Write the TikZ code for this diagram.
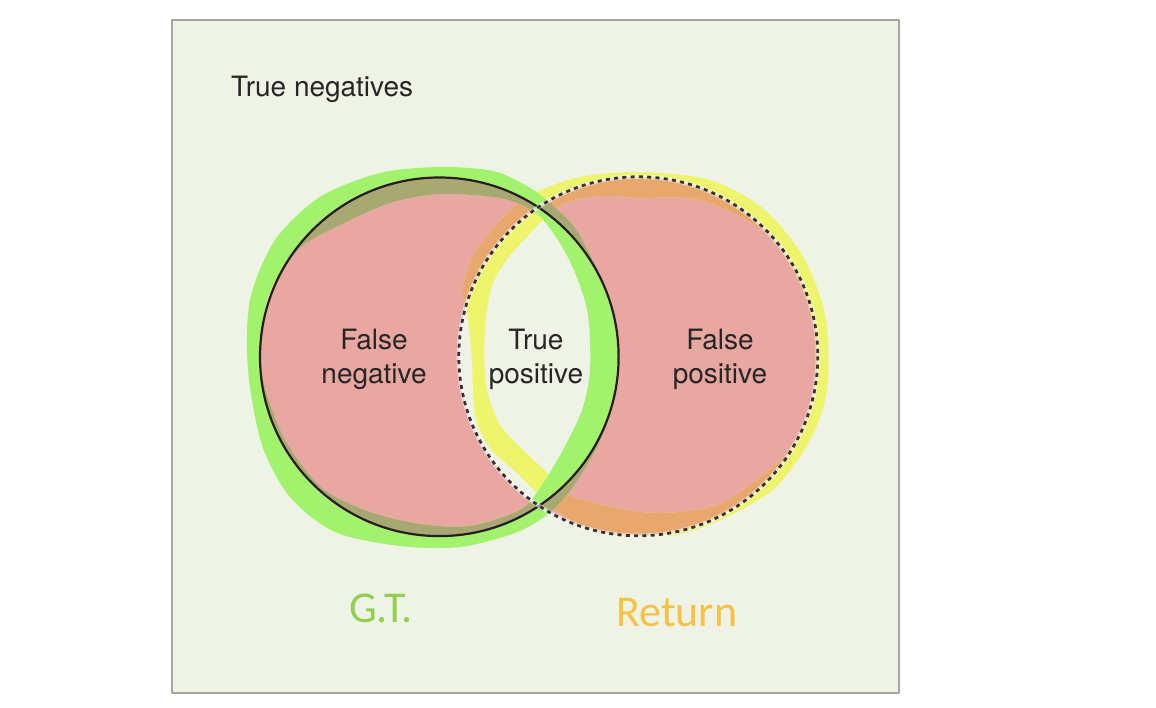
\documentclass[tikz,border=0pt]{standalone}
\usepackage{fontspec}
\setmainfont{TeX Gyre Heros}
\newfontfamily\calfont{Carlito}
\begin{document}
\begin{tikzpicture}[x=1pt,y=-1pt,line join=round]
\definecolor{bgc}{HTML}{EEF3E5}
\definecolor{boxc}{HTML}{A4A4A4}
\definecolor{pinkc}{HTML}{E8A7A0}
\definecolor{greenc}{HTML}{A3F26D}
\definecolor{olivec}{HTML}{A8A873}
\definecolor{yellowc}{HTML}{EFF46D}
\definecolor{orangec}{HTML}{E8A76C}
\definecolor{txtc}{HTML}{262626}
\definecolor{gtc}{HTML}{92D050}
\definecolor{retc}{HTML}{F7C244}
\definecolor{circc}{HTML}{2A1C24}
\definecolor{dotc}{HTML}{333338}
\tikzset{
  boxline/.style={draw=boxc,line width=2,fill=bgc},
  lbl/.style={text=txtc,inner sep=0,font=\fontsize{28}{34}\selectfont},
  tag/.style={inner sep=0,font=\calfont\fontsize{44}{50}\selectfont},
  gtcircle/.style={draw=circc,line width=2.2},
  retcircle/.style={draw=dotc,line width=2.8,dash pattern=on 4 off 4.3},
}
\useasboundingbox (0,0) rectangle (1156,708);
\fill[white] (0,0) rectangle (1156,708);
\path[boxline] (172,20) rectangle (899,693);
% pink: symmetric difference of the two sets
\fill[pinkc,even odd rule] (618.6,356.8) arc[start angle=0,end angle=360,radius=179.3]
  (817.8,356.3) arc[start angle=360,end angle=0,radius=179.5];
% yellow marker (Return)
\def\ybandpath{plot[smooth cycle] coordinates {(640,172) (710,180) (765,210) (805,260) (826,320) (827,390) (810,440) (775,488) (725,518) (675,535) (620,535) (580,525) (550,505) (517,473) (490,448) (475,415) (472,360) (468,320) (463,290) (470,262) (484,240) (505,215) (535,193) (580,177)}
  plot[smooth cycle] coordinates {(640,198) (700,200) (765,232) (798,280) (814,330) (814,390) (800,432) (772,468) (722,503) (680,512) (640,512) (590,502) (555,490) (547,473) (523,450) (500,425) (487,390) (484,350) (487,310) (493,283) (508,258) (527,237) (560,205) (600,196)}}
\fill[yellowc,even odd rule] \ybandpath;
\begin{scope}[even odd rule]
  \clip (618.6,356.8) arc[start angle=0,end angle=360,radius=179.3]
    (817.8,356.3) arc[start angle=360,end angle=0,radius=179.5];
  \fill[orangec] \ybandpath;
\end{scope}
% green marker (G.T.)
\def\gbandpath{plot[smooth cycle] coordinates {(440,167) (493,171) (527,186) (550,203) (575,228) (595,265) (612,305) (618,340) (614,400) (597,447) (572,488) (548,514) (515,533) (460,547) (400,546) (335,532) (290,497) (262,445) (248,370) (250,300) (275,240) (320,197) (380,173)}
  plot[smooth cycle] coordinates {(440,194) (500,198) (535,212) (558,240) (576,275) (588,315) (590,370) (582,410) (563,450) (540,488) (520,510) (470,526) (420,524) (370,512) (322,488) (285,440) (263,380) (262,330) (271,290) (300,248) (340,225) (390,203)}}
\fill[greenc,even odd rule] \gbandpath;
\begin{scope}[even odd rule]
  \clip (618.6,356.8) arc[start angle=0,end angle=360,radius=179.3]
    (817.8,356.3) arc[start angle=360,end angle=0,radius=179.5];
  \fill[olivec] \gbandpath;
\end{scope}
% circle outlines
\draw[gtcircle] (439.3,356.8) circle[radius=179.3];
\draw[white,line width=4.2,opacity=0.55] (638.3,356.3) circle[radius=179.5];
\draw[retcircle] (638.3,356.3) circle[radius=179.5];
% labels
\node[lbl,anchor=base west] (tn) at (231,97) {True negatives};
\node[lbl,align=center] (fn) at (374,359) {False\\negative};
\node[lbl,align=center] (tp) at (536,359) {True\\positive};
\node[lbl,align=center] (fp) at (720,359) {False\\positive};
\node[tag,text=gtc,anchor=base west] (gt) at (349,622) {G.T.};
\node[tag,text=retc,anchor=base west] (ret) at (616,626) {Return};
\end{tikzpicture}
\end{document}
